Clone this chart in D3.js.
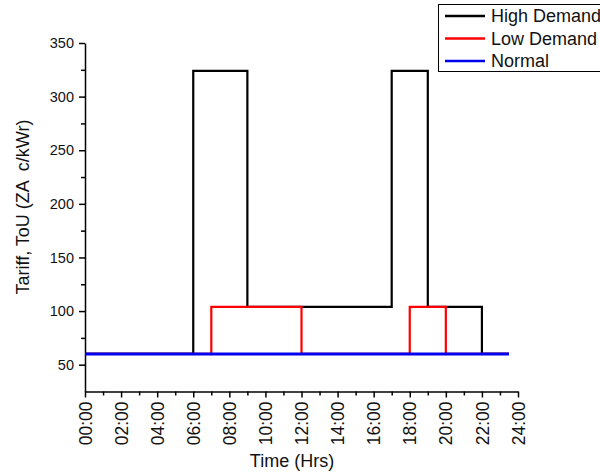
<!DOCTYPE html>
<html>
<head>
<meta charset="utf-8">
<script src="https://cdnjs.cloudflare.com/ajax/libs/d3/7.8.5/d3.min.js"></script>
<style>
  body { margin: 0; background: #fff; }
  svg { font-family: "Liberation Sans", Arial, sans-serif; }
</style>
</head>
<body>
<svg width="600" height="474"></svg>
<script>
// tariff steps (hour, value)
const highHours = [0, 6, 9, 17, 19, 22, 23.5];
const highValues = [60, 324, 104, 324, 104, 60, 60];
const lowHours = [0, 7, 12, 18, 20, 23.5];
const lowValues = [60, 104, 60, 104, 60, 60];
const normalHours = [0, 23.5];
const normalValues = [60, 60];

const seriesNames = ['High Demand', 'Low Demand', 'Normal'];
const seriesColors = ['#000000', '#ff0000', '#0000ee'];
const xTickHours = [0, 2, 4, 6, 8, 10, 12, 14, 16, 18, 20, 22, 24];
const yTickValues = [50, 100, 150, 200, 250, 300, 350];

let svg = d3.select('svg');

let x = d3.scaleLinear().domain([0, 24]).range([85, 518]);
let y = d3.scaleLinear().domain([25, 350]).range([391.5, 43]);

/*axes*/
let fmtHour = h => String(h).padStart(2, '0') + ':00';

// minor ticks first
svg.append('g').attr('transform', 'translate(0,391.5)')
  .call(d3.axisBottom(x).tickValues(d3.range(1, 24, 2)).tickSize(4).tickFormat(''))
  .call(g => g.select('.domain').remove())
  .selectAll('line').attr('stroke-width', 1.5);
svg.append('g').attr('transform', 'translate(85,0)')
  .call(d3.axisLeft(y).tickValues(d3.range(75, 350, 50)).tickSize(4).tickFormat(''))
  .call(g => g.select('.domain').remove())
  .selectAll('line').attr('stroke-width', 1.5);

let xAxis = svg.append('g').attr('transform', 'translate(0,391.5)')
  .call(d3.axisBottom(x).tickValues(xTickHours).tickSize(6).tickSizeOuter(0).tickFormat(fmtHour));
xAxis.select('.domain').attr('stroke-width', 1.5);
xAxis.selectAll('line').attr('stroke-width', 1.5);
xAxis.selectAll('text')
  .attr('transform', 'rotate(-90)')
  .attr('x', -10).attr('y', 0).attr('dy', '0.35em')
  .attr('text-anchor', 'end')
  .style('font-size', '17.5px').attr('fill', '#111');

let yAxis = svg.append('g').attr('transform', 'translate(85,0)')
  .call(d3.axisLeft(y).tickValues(yTickValues).tickSize(6).tickSizeOuter(0));
yAxis.select('.domain').attr('stroke-width', 1.5);
yAxis.selectAll('line').attr('stroke-width', 1.5);
yAxis.selectAll('text').attr('x', -11).style('font-size', '14.5px').attr('fill', '#111');

// axis titles
svg.append('text').attr('x', 292).attr('y', 467)
  .attr('text-anchor', 'middle').style('font-size', '18px').attr('fill', '#111')
  .text('Time (Hrs)');
svg.append('text').attr('transform', 'translate(29,207) rotate(-90)')
  .attr('text-anchor', 'middle').style('font-size', '18px').style('white-space', 'pre')
  .attr('fill', '#111')
  .text('Tariff, ToU (ZA  c/kWr)');

/*lines*/
let line = d3.line().x(d => x(d[0])).y(d => y(d[1])).curve(d3.curveStepAfter);
let series = [
  d3.zip(highHours, highValues),
  d3.zip(lowHours, lowValues),
  d3.zip(normalHours, normalValues)
];
let widths = [2.2, 2.2, 3];
series.forEach((s, i) => {
  svg.append('path').datum(s)
    .attr('d', line)
    .attr('fill', 'none')
    .attr('stroke', seriesColors[i])
    .attr('stroke-width', widths[i]);
});

/*legend*/
let legend = svg.append('g').attr('transform', 'translate(438,4)');
legend.append('rect').attr('x', 0.5).attr('y', 0.5).attr('width', 170).attr('height', 67)
  .attr('fill', '#fff').attr('stroke', '#000').attr('stroke-width', 1);
seriesNames.forEach((name, i) => {
  let yy = 12 + i * 22.5;
  legend.append('line').attr('x1', 7).attr('x2', 47).attr('y1', yy).attr('y2', yy)
    .attr('stroke', seriesColors[i]).attr('stroke-width', 2.5);
  legend.append('text').attr('x', 53).attr('y', yy).attr('dy', '0.35em')
    .style('font-size', '18px').attr('fill', '#111').text(name);
});
</script>
</body>
</html>
